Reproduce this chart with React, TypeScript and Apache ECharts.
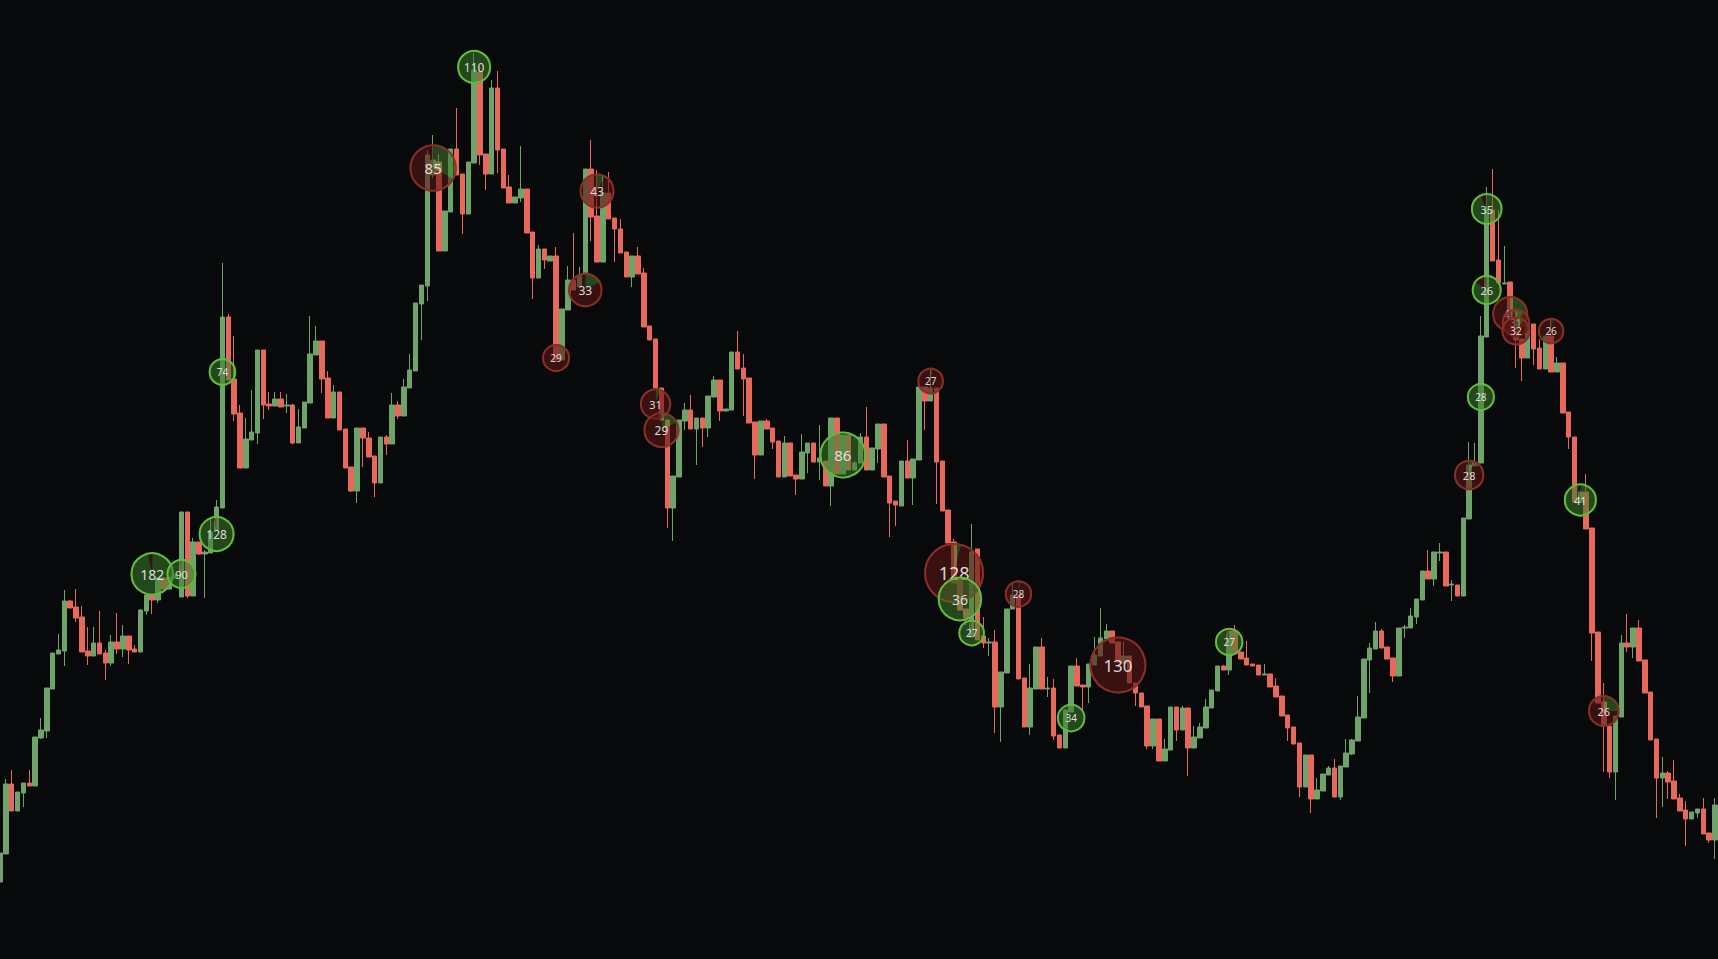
import React, { useEffect, useRef } from "react";
import * as echarts from "echarts";

// ---- candles (294 sessions) ----
const opens = [
  77,105,175,148,166,176,173,221,228,270,
  305,308,358,352,342,308,303,316,306,296,
  317,310,323,310,307,348,365,359,381,370,
  381,362,447,363,417,405,406,429,451,642,
  580,546,491,519,526,609,555,553,560,553,
  554,516,531,556,604,618,581,541,567,530,
  492,468,531,521,503,476,522,515,554,543,
  571,588,655,673,784,797,708,747,810,785,
  745,796,887,805,785,871,810,772,756,761,
  770,727,681,710,698,703,599,649,679,672,
  686,790,743,697,766,741,730,707,682,703,
  686,633,620,571,539,451,482,538,549,530,
  541,531,562,579,548,549,607,591,581,537,
  504,538,531,518,482,516,484,480,506,516,
  497,498,473,541,485,524,489,496,522,489,
  510,535,483,458,453,498,481,499,572,558,
  571,498,449,417,379,350,322,410,323,316,
  317,252,286,350,364,281,232,270,312,270,
  271,224,211,247,293,274,272,294,303,320,
  328,317,296,303,276,266,253,213,240,198,
  209,252,229,251,211,221,231,251,268,293,
  289,328,307,301,295,294,284,285,273,263,
  244,232,216,172,204,160,168,184,191,162,
  192,205,218,241,299,310,328,312,301,283,
  331,331,342,359,388,380,406,407,374,374,
  363,440,493,496,622,749,699,675,677,639,
  620,601,635,611,590,623,587,596,547,522,
  457,467,431,327,257,233,187,242,316,312,
  331,299,267,220,181,186,178,161,149,140,
  146,150,126,119,
];
const closes = [
  106,175,148,167,176,173,222,229,271,306,
  309,358,351,341,307,303,316,305,296,317,
  310,323,309,307,349,364,359,381,370,382,
  384,447,363,417,405,407,427,452,642,579,
  545,491,520,527,609,554,553,560,552,554,
  516,532,557,605,618,580,541,567,529,491,
  468,531,521,502,476,522,515,554,543,572,
  589,656,674,804,799,708,748,810,784,745,
  797,889,804,785,871,809,771,756,762,770,
  726,681,710,699,703,599,650,679,669,684,
  790,742,697,766,740,730,706,682,703,685,
  632,619,571,539,451,483,539,549,530,541,
  531,563,579,548,550,607,590,580,536,504,
  538,530,517,482,516,483,480,507,516,497,
  501,473,541,485,524,489,496,522,489,511,
  535,482,456,454,498,481,500,572,558,571,
  497,448,416,376,349,341,407,319,316,317,
  252,287,350,364,280,232,271,312,270,271,
  223,211,249,293,273,272,295,304,321,328,
  316,297,303,276,266,252,213,240,198,210,
  252,229,251,211,222,232,252,269,293,289,
  328,306,300,294,293,284,285,272,262,243,
  231,215,172,204,160,169,185,191,162,193,
  206,219,242,300,311,328,311,300,283,331,
  332,343,360,388,380,407,407,373,375,363,
  441,494,496,623,749,698,676,676,639,619,
  601,635,610,590,623,587,596,546,522,457,
  467,430,326,256,233,187,243,316,312,331,
  298,266,219,181,186,177,160,148,140,147,
  150,125,119,154,
];
const lows = [
  77,105,148,148,152,173,173,220,221,270,
  305,293,351,337,307,294,303,305,279,293,
  305,302,295,307,307,344,345,356,370,370,
  380,362,361,363,404,361,406,429,451,579,
  538,491,491,519,515,540,549,553,552,546,
  515,516,531,556,604,566,541,541,529,491,
  467,456,492,502,462,476,504,515,540,543,
  571,588,619,658,781,708,708,747,784,725,
  745,796,794,769,785,786,771,756,756,757,
  726,660,681,690,698,599,599,649,669,672,
  686,718,697,697,740,697,706,682,672,685,
  632,619,571,539,431,418,482,529,530,494,
  512,522,562,538,548,549,590,543,536,480,
  504,530,510,482,482,483,464,480,486,497,
  479,473,453,485,485,489,489,496,489,489,
  496,482,422,433,453,481,454,499,529,558,
  455,448,416,376,349,334,322,319,311,303,
  226,217,286,350,280,232,224,270,270,262,
  219,211,211,247,273,249,256,294,303,320,
  316,297,296,276,253,252,210,210,198,198,
  209,218,229,183,211,221,231,251,268,289,
  284,306,300,294,293,284,284,272,262,243,
  218,215,162,172,146,160,168,184,162,159,
  192,204,218,241,266,310,311,300,277,283,
  321,331,335,359,380,373,398,373,358,363,
  363,440,493,496,622,698,676,675,639,591,
  578,601,594,590,590,587,587,546,510,457,
  457,430,298,256,187,181,159,242,307,301,
  298,266,219,141,152,160,160,148,113,140,
  141,125,116,100,
];
const highs = [
  106,180,189,167,176,189,222,241,271,306,
  325,369,359,370,353,332,332,348,309,324,
  346,334,323,314,350,364,365,381,381,382,
  386,447,447,421,417,409,440,459,696,645,
  623,554,541,569,609,609,567,567,567,565,
  555,550,557,643,633,618,588,574,567,530,
  492,531,531,527,503,522,524,566,558,580,
  605,656,674,809,824,805,748,810,851,785,
  797,906,893,805,879,888,810,784,762,813,
  770,727,714,710,703,712,650,693,726,692,
  790,819,789,784,787,741,740,707,703,712,
  691,633,620,571,539,483,539,556,564,541,
  541,563,583,579,550,607,628,605,581,537,
  538,540,531,518,523,516,484,525,516,516,
  534,498,541,541,524,524,498,526,552,511,
  535,535,483,458,498,519,500,572,572,589,
  571,498,449,420,379,350,435,410,342,321,
  329,287,350,377,364,281,295,312,321,282,
  280,224,249,293,301,274,295,322,351,335,
  328,317,317,303,276,266,253,240,240,220,
  252,252,253,251,233,236,260,269,293,294,
  328,334,307,318,295,294,295,285,281,263,
  244,232,216,204,204,181,185,193,200,193,
  220,220,263,300,316,337,330,312,301,331,
  334,351,360,388,409,407,416,407,379,374,
  441,517,516,643,772,790,749,713,677,639,
  620,635,635,620,623,640,602,596,547,522,
  468,485,431,327,276,233,243,324,345,331,
  339,299,267,220,202,188,199,165,158,147,
  150,161,126,161,
];

// ---- large-trade bubbles ----
const bubbleCandle = [26, 31, 37, 38, 74, 81, 102, 100, 95, 112, 113, 144, 159, 163, 164, 166, 174, 183, 191, 210, 251, 253, 254, 254, 258, 259, 259, 265, 270, 274];
const bubblePrice = [385, 385, 425, 587, 791, 892, 768, 669, 601, 555, 529, 504, 578, 386, 360, 326, 365, 241, 294, 317, 484, 562, 750, 669, 645, 636, 628, 628, 459, 248];
const bubbleLabel = [182, 90, 128, 74, 85, 110, 43, 33, 29, 31, 29, 86, 27, 128, 36, 27, 28, 34, 130, 27, 28, 28, 35, 26, 40, 31, 32, 26, 41, 26];
const bubbleNotional = [471, 225, 324, 190, 562, 289, 306, 296, 196, 246, 324, 552, 177, 900, 493, 177, 188, 204, 812, 202, 231, 196, 250, 225, 324, 204, 210, 174, 272, 250];
const bubbleBuyShare = [0.97, 0.98, 0.97, 1, 0.33, 1, 0.08, 0.17, 0, 0.05, 0.18, 1, 0.03, 0.04, 1, 0.96, 0.03, 1, 0, 0.94, 0.05, 1, 0.93, 0.85, 0.3, 0.1, 0.1, 0.03, 0.97, 0.25];

const BG = "#07090b";
const UP = "#6ea46a";
const DOWN = "#e8685a";
const BUY_FILL = "rgba(62,122,44,0.55)";
const SELL_FILL = "rgba(92,24,20,0.6)";
const BUY_STROKE = "#5fbf3c";
const SELL_STROKE = "#8a2f25";

export default function App() {
  const ref = useRef<HTMLDivElement>(null);

  useEffect(() => {
    if (!ref.current) return;
    const chart = echarts.init(ref.current, undefined, { renderer: "svg" });

    const cats = opens.map((_, i) => String(i));
    const candleData = opens.map((o, i) => [o, closes[i], lows[i], highs[i]]);
    const bubbleData = bubbleCandle.map((c, i) => [
      c,
      bubblePrice[i],
      bubbleNotional[i],
      bubbleBuyShare[i],
      bubbleLabel[i],
    ]);

    chart.setOption({
      animation: false,
      backgroundColor: BG,
      grid: { left: 0, right: 3, top: 0, bottom: 0 },
      xAxis: {
        type: "category",
        data: cats,
        boundaryGap: false,
        show: false,
      },
      yAxis: {
        type: "value",
        min: 0,
        max: 959,
        show: false,
        splitLine: { show: false },
      },
      series: [
        {
          type: "candlestick",
          data: candleData,
          barWidth: 5,
          itemStyle: {
            color: UP,
            color0: DOWN,
            borderColor: UP,
            borderColor0: DOWN,
            borderWidth: 1,
          },
        },
        {
          type: "custom",
          data: bubbleData,
          encode: { x: 0, y: 1 },
          z: 5,
          renderItem: (params: any, api: any) => {
            const pt = api.coord([api.value(0), api.value(1)]);
            const r = Math.sqrt(api.value(2));
            const buy = api.value(3);
            const label = String(api.value(4));
            const start = -Math.PI / 2;
            const mid = start + buy * Math.PI * 2;
            const end = start + Math.PI * 2;
            const isBuy = buy >= 0.5;
            const fs = Math.round(r * 0.5 + 3);
            const children: any[] = [];
            if (buy > 0) {
              children.push({
                type: "sector",
                shape: { cx: pt[0], cy: pt[1], r0: 0, r: r, startAngle: start, endAngle: buy >= 1 ? end : mid, clockwise: true },
                style: { fill: BUY_FILL },
              });
            }
            if (buy < 1) {
              children.push({
                type: "sector",
                shape: { cx: pt[0], cy: pt[1], r0: 0, r: r, startAngle: buy <= 0 ? start : mid, endAngle: end, clockwise: true },
                style: { fill: SELL_FILL },
              });
            }
            children.push({
              type: "circle",
              shape: { cx: pt[0], cy: pt[1], r: r - 1 },
              style: { fill: "none", stroke: isBuy ? BUY_STROKE : SELL_STROKE, lineWidth: 2 },
            });
            children.push({
              type: "text",
              style: {
                text: label,
                x: pt[0],
                y: pt[1],
                align: "center",
                verticalAlign: "middle",
                fill: "rgba(236,236,236,0.92)",
                fontSize: fs,
                fontFamily: "Noto Sans, Open Sans, sans-serif",
              },
            });
            return { type: "group", children };
          },
        },
      ],
    });

    return () => chart.dispose();
  }, []);

  return (
    <div
      ref={ref}
      style={{
        position: "fixed",
        left: 0,
        top: 0,
        width: "1718px",
        height: "959px",
        background: BG,
      }}
    />
  );
}
